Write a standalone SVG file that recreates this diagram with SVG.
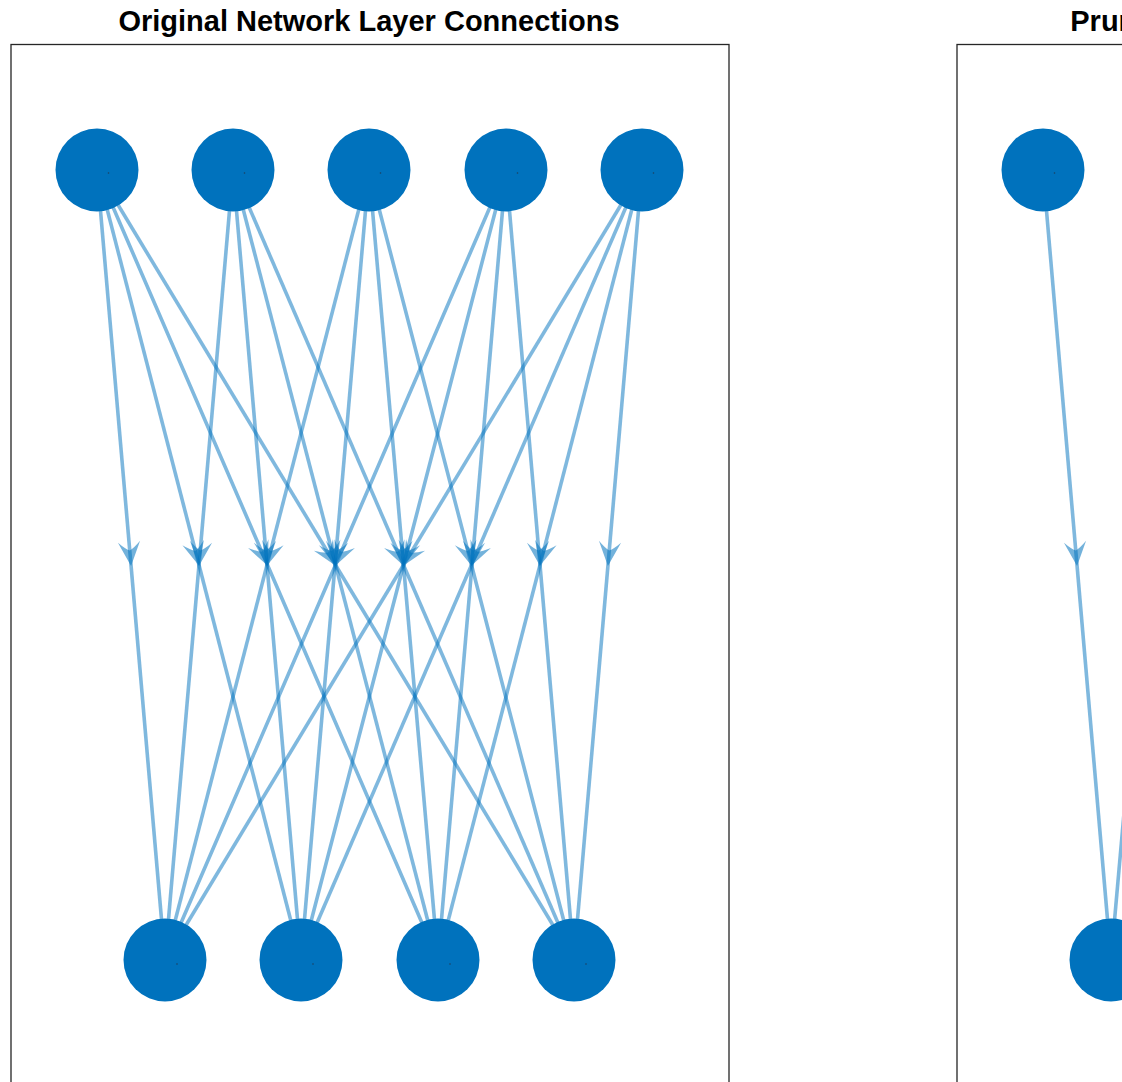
<svg xmlns="http://www.w3.org/2000/svg" width="1122" height="1082" viewBox="0 0 1122 1082">
<style>
.title{font-family:"Liberation Sans",Arial,sans-serif;font-weight:bold;font-size:29px;fill:#000;text-anchor:middle}
.axes{fill:#fff;stroke:#262626;stroke-width:1.3}
.node circle.n{fill:#0072BD}
.node circle.d{fill:#1e3f5f}
.edge{fill:none;stroke:#0072BD;stroke-opacity:0.5;stroke-width:3.6;marker-mid:url(#arr)}
</style>
<defs>
<marker id="arr" markerUnits="userSpaceOnUse" orient="auto" refX="0" refY="0" markerWidth="30" markerHeight="30" viewBox="-25 -12 27 24" overflow="visible">
<path d="M1,0 L-21,-10 Q-15,-4 -13,0 Q-15,4 -21,10 Z" fill="#0072BD" fill-opacity="0.55"/>
</marker>
</defs>
<rect width="1122" height="1082" fill="#fff"/>
<text class="title" x="369" y="31">Original Network Layer Connections</text>
<text class="title" x="1316" y="31">Pruned Network Layer Connections</text>
<rect class="axes" x="11" y="44.5" width="718" height="1100"/>
<rect class="axes" x="957" y="44.5" width="718" height="1100"/>
<g id="connectors">
<path class="edge" d="M97,170 L131,565 L165,960"/>
<path class="edge" d="M97,170 L199,565 L301,960"/>
<path class="edge" d="M97,170 L267.5,565 L438,960"/>
<path class="edge" d="M97,170 L335.5,565 L574,960"/>
<path class="edge" d="M233,170 L199,565 L165,960"/>
<path class="edge" d="M233,170 L267,565 L301,960"/>
<path class="edge" d="M233,170 L335.5,565 L438,960"/>
<path class="edge" d="M233,170 L403.5,565 L574,960"/>
<path class="edge" d="M369,170 L267,565 L165,960"/>
<path class="edge" d="M369,170 L335,565 L301,960"/>
<path class="edge" d="M369,170 L403.5,565 L438,960"/>
<path class="edge" d="M369,170 L471.5,565 L574,960"/>
<path class="edge" d="M506,170 L335.5,565 L165,960"/>
<path class="edge" d="M506,170 L403.5,565 L301,960"/>
<path class="edge" d="M506,170 L472,565 L438,960"/>
<path class="edge" d="M506,170 L540,565 L574,960"/>
<path class="edge" d="M642,170 L403.5,565 L165,960"/>
<path class="edge" d="M642,170 L471.5,565 L301,960"/>
<path class="edge" d="M642,170 L540,565 L438,960"/>
<path class="edge" d="M642,170 L608,565 L574,960"/>
<path class="edge" d="M1043,170 L1077,565 L1111,960"/>
<path class="edge" d="M1181,170 L1146,565 L1111,960"/>
</g>
<g id="o1" class="node"><circle class="n" cx="97" cy="170" r="41.5"/><circle class="d" cx="108.5" cy="173" r="0.8"/></g>
<g id="o2" class="node"><circle class="n" cx="233" cy="170" r="41.5"/><circle class="d" cx="244.5" cy="173" r="0.8"/></g>
<g id="o3" class="node"><circle class="n" cx="369" cy="170" r="41.5"/><circle class="d" cx="380.5" cy="173" r="0.8"/></g>
<g id="o4" class="node"><circle class="n" cx="506" cy="170" r="41.5"/><circle class="d" cx="517.5" cy="173" r="0.8"/></g>
<g id="o5" class="node"><circle class="n" cx="642" cy="170" r="41.5"/><circle class="d" cx="653.5" cy="173" r="0.8"/></g>
<g id="o6" class="node"><circle class="n" cx="165" cy="960" r="41.5"/><circle class="d" cx="177" cy="964" r="0.8"/></g>
<g id="o7" class="node"><circle class="n" cx="301" cy="960" r="41.5"/><circle class="d" cx="313" cy="964" r="0.8"/></g>
<g id="o8" class="node"><circle class="n" cx="438" cy="960" r="41.5"/><circle class="d" cx="450" cy="964" r="0.8"/></g>
<g id="o9" class="node"><circle class="n" cx="574" cy="960" r="41.5"/><circle class="d" cx="586" cy="964" r="0.8"/></g>
<g id="p1" class="node"><circle class="n" cx="1043" cy="170" r="41.5"/><circle class="d" cx="1054.5" cy="173" r="0.8"/></g>
<g id="p6" class="node"><circle class="n" cx="1111" cy="960" r="41.5"/><circle class="d" cx="1123" cy="964" r="0.8"/></g>
</svg>
